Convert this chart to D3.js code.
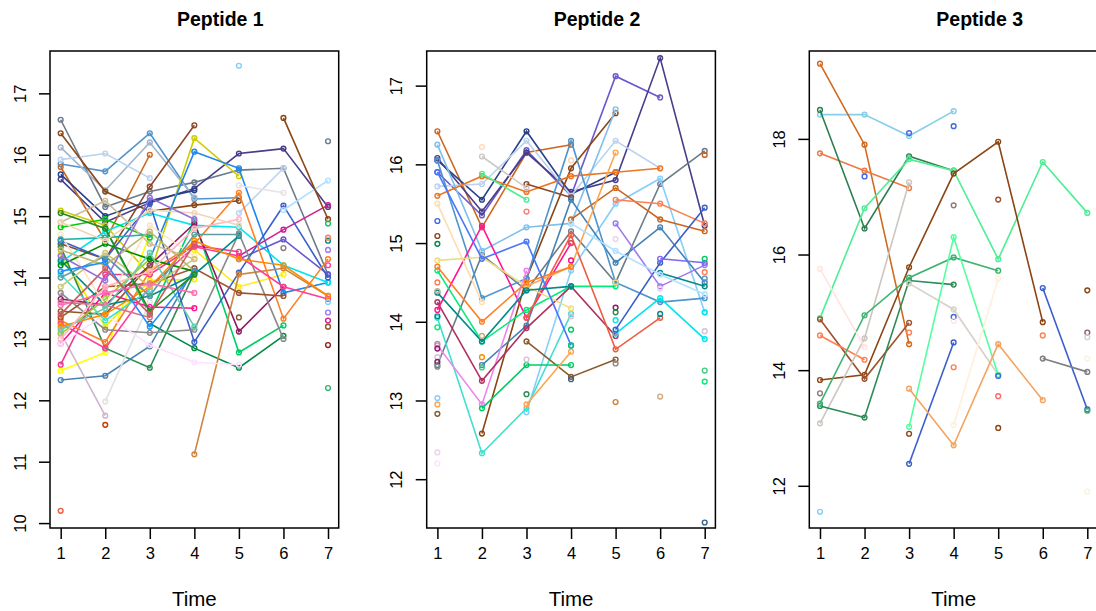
<!DOCTYPE html>
<html><head><meta charset="utf-8">
<script src="https://cdn.jsdelivr.net/npm/d3@7"></script>
<style>body{margin:0;background:#fff}svg{display:block}text{font-family:"Liberation Sans",Arial,sans-serif}</style>
</head><body>
<svg id="c" width="1096" height="611"></svg>
<script>
const times = [1,2,3,4,5,6,7];
const titles = ["Peptide 1","Peptide 2","Peptide 3"];
const p1Ticks = [10,11,12,13,14,15,16,17];
const p2Ticks = [12,13,14,15,16,17];
const p3Ticks = [12,14,16,18];

const p1Values = [
 [16.57,15.15,15.40,15.55,15.75,15.78,14.05],
 [15.60,14.90,15.22,15.45,16.02,16.10,15.15],
 [15.85,15.73,16.35,15.28,15.30,null,null],
 [16.12,15.42,16.20,15.30,null,null,null],
 [15.92,16.02,15.62,null,15.05,15.78,null],
 [15.80,14.60,16.00,null,null,null,null],
 [16.35,15.40,15.08,15.18,15.25,null,null],
 [14.55,14.30,15.48,16.48,null,null,null],
 [15.68,15.00,15.25,15.42,null,null,null],
 [15.09,14.85,14.05,16.27,15.65,null,null],
 [12.48,12.78,14.70,null,null,null,null],
 [14.38,13.20,13.95,13.97,null,null,null],
 [null,null,null,14.45,13.85,14.05,null],
 [null,null,14.30,16.05,15.78,13.75,13.92],
 [14.25,14.75,15.05,14.85,14.82,14.20,13.92],
 [14.82,14.95,14.65,null,null,null,null],
 [null,14.80,13.40,14.92,12.78,13.22,null],
 [14.50,12.85,12.53,14.08,null,null,null],
 [null,null,13.25,12.85,12.53,13.05,null],
 [12.33,12.40,12.88,14.15,null,null,null],
 [13.10,11.75,null,null,null,null,null],
 [null,11.98,13.60,null,null,null,null],
 [12.58,14.05,14.05,14.52,14.42,null,null],
 [12.92,13.75,13.52,13.50,null,null,null],
 [13.65,13.55,14.20,14.88,13.12,13.85,null],
 [null,null,null,null,14.35,14.78,15.18],
 [null,null,null,null,14.30,14.62,14.05],
 [14.60,14.30,15.20,12.95,14.08,15.17,14.00],
 [null,null,null,11.12,14.05,14.15,13.70],
 [13.30,12.95,14.10,14.55,15.38,13.33,14.30],
 [13.75,13.15,13.10,13.15,14.72,13.00,null],
 [12.92,13.40,12.90,12.62,12.58,null,null],
 [null,null,null,null,15.50,15.38,null],
 [null,null,null,null,null,15.10,15.58],
 [13.35,13.85,13.90,14.15,13.75,13.70,null],
 [13.45,13.40,14.20,null,13.35,null,13.20],
 [13.25,12.85,13.85,14.50,14.35,13.85,13.65],
 [14.28,13.55,13.70,14.05,14.68,null,14.60],
 [14.05,13.30,13.80,null,null,null,null],
 [13.08,13.65,14.30,null,null,null,null],
 [14.90,15.25,14.55,14.30,null,null,null],
 [14.70,13.55,14.85,14.35,null,null,null],
 [14.20,14.55,14.30,14.10,null,null,null],
 [14.00,14.35,13.70,14.70,14.70,null,null],
 [13.60,13.55,13.35,null,null,null,null],
 [13.20,13.40,13.85,14.60,14.30,14.20,13.70],
 [null,null,null,null,null,16.60,14.95],
 [14.62,14.65,14.70,null,null,null,null],
 [13.85,14.40,13.85,14.30,null,null,null],
 [14.45,14.20,14.75,14.10,null,null,null],
 [13.15,13.50,14.40,13.20,null,null,null],
 [14.10,14.25,13.20,14.10,null,null,null],
 [13.55,13.75,13.90,13.75,null,null,null],
 [15.05,14.80,13.45,14.05,null,null,null],
 [13.00,13.85,14.10,14.80,14.95,null,null],
 [14.90,14.60,15.10,15.05,14.85,null,null],
 [13.40,14.15,13.40,14.55,null,null,null],
 [14.35,13.95,15.30,14.95,null,null,null]
];
const p1Colors = ["#6C7B8B","#483D8B","#4F94CD","#A2B5CD","#BCD2EE","#CD661D","#8B4513","#8B4726","#27408B","#CDCD00",
 "#FFFF00","#EEEE00","#FFEC1A","#1C86EE","#00E5EE","#00CD00","#00CD66","#2E8B57","#008B45","#4682B4",
 "#CDB5CD","#E0E0E0","#EE3A8C","#FF1493","#8B1C62","#D02090","#6959CD","#3A5FCD","#CD853F","#FF7F24",
 "#8B8989","#FFE1FF","#E8E2E2","#B0E2FF","#A0522D","#8B5A2B","#FF3E96","#008B8B","#40E0D0","#9ACD32",
 "#CDBA96","#FFE4C4","#008B00","#5F9EA0","#DB7093","#FF8C00","#8B4513",
 "#20B2AA","#CDC673","#BDB76B","#66CDAA","#1E90FF","#FF6EB4","#228B22","#FFB6C1","#EED5B7","#CD5C5C","#9370DB"];
const p1LoneTime = [1,2,5,7,7,7,7,7,7,7,7,7,7,6];
const p1LoneValue = [10.20,11.60,17.45,16.22,14.88,14.65,14.45,14.20,13.60,13.43,13.30,12.90,12.20,14.48];
const p1LoneColor = ["#EE5C42","#CD3700","#87CEFA","#6C7B8B","#00CD66","#FF7F50","#9F79EE","#FF3E96","#87CEFA","#9F79EE","#D02090","#8B2323","#3CB371","#8B7D7B"];

const p2Values = [
 [16.42,15.20,16.15,16.25,null,null,null],
 [16.05,15.55,16.42,15.62,15.90,null,null],
 [15.90,15.35,16.18,15.60,17.12,16.85,null],
 [16.08,15.40,16.15,15.65,15.80,17.35,15.22],
 [15.72,15.75,16.30,15.60,16.30,15.95,null],
 [13.45,14.85,14.40,15.15,14.50,15.75,16.17],
 [null,12.58,14.55,15.95,16.65,null,null],
 [null,null,12.85,14.65,15.50,15.82,14.12],
 [16.25,14.90,15.20,15.25,16.70,null,null],
 [15.60,15.85,15.65,15.85,15.90,15.95,null],
 [null,null,15.75,15.58,null,null,null],
 [null,null,null,15.30,15.70,15.30,15.15],
 [null,null,null,null,15.55,15.50,15.25],
 [null,13.45,13.95,15.55,14.75,15.20,14.50],
 [16.05,14.30,14.55,16.30,14.50,14.25,14.30],
 [14.05,12.33,12.90,14.10,null,null,null],
 [14.15,15.22,14.05,15.00,null,null,null],
 [13.70,12.95,14.65,null,null,null,null],
 [14.65,13.75,14.15,14.45,14.45,null,null],
 [14.25,13.25,13.92,14.45,13.82,null,null],
 [null,null,13.75,13.30,13.52,null,null],
 [null,12.90,13.45,13.45,null,null,null],
 [null,null,14.05,15.10,13.65,14.05,null],
 [null,null,null,null,13.85,14.30,13.78],
 [15.50,14.25,null,null,null,null,null],
 [14.78,14.82,14.45,14.17,null,null,null],
 [null,null,12.95,13.62,null,null,null],
 [null,null,14.45,14.70,16.15,null,null],
 [14.70,14.00,14.50,14.70,null,null,null],
 [15.90,14.80,15.02,13.70,null,null,null],
 [null,null,null,null,13.90,14.75,15.45],
 [null,null,null,null,15.25,14.45,14.72],
 [14.37,13.75,14.40,14.45,null,14.62,14.45],
 [null,16.10,15.70,null,null,null,null],
 [null,15.88,15.55,null,null,null,null],
 [null,null,null,15.25,14.90,14.60,14.35],
 [null,null,null,null,null,14.80,14.75]
];
const p2Colors = ["#CD661D","#27408B","#6959CD","#483D8B","#BCD2EE","#6C7B8B","#8B4513","#87CEFA","#7EC0EE","#EE7621",
 "#8B4726","#CD661D","#FF7F50","#4682B4","#4F94CD","#40E0D0","#FF1493","#EE82EE","#00EE76","#B03060",
 "#8B5A2B","#00CD66","#EE5C42","#00E5EE","#FFDEAD","#EEDD82","#FFA54F","#FFA54F","#FF7F24","#4876FF",
 "#3A5FCD","#9F79EE","#008B8B","#CDC9C9","#4EEE94","#B0E2FF","#7B68EE"];
const p2LoneTime = [1,1,1,1,1,1,1,1,1,1,1,1,1,1,1,1,1, 2,2,2,2, 3,3,3, 4,4,4,4,4,4,4, 5,5,5,5,5,5,5, 6,6,6, 7,7,7,7,7,7,7,7,7];
const p2LoneValue = [15.28,15.09,14.99,14.50,14.39,14.07,13.93,13.72,13.66,13.55,13.49,13.43,13.03,12.95,12.83,12.34,12.20,
 16.22,13.82,13.55,13.42, 15.40,13.08,13.52, 16.05,15.00,14.78,13.90,13.70,13.27,14.07,
 15.05,14.18,14.12,14.02,13.47,12.98,14.50, 14.10,13.05,14.42,
 16.12,14.80,14.63,14.55,13.88,13.38,13.24,11.45,14.12];
const p2LoneColor = ["#4169E1","#8B4726","#008B45","#FF7F50","#CDAA7D","#008B8B","#00EE76","#BC8F8F","#8B1C62","#D8BFD8","#8B1C62","#8B8989","#87CEFA","#FFA54F","#8B5A2B","#EED2EE","#FFE1FF",
 "#FFDAB9","#CDAA7D","#FF8C00","#43CD80", "#FA8072","#2E8B57","#D8BFD8",
 "#FFDAB9","#CD5555","#EE1289","#00CD66","#00CD66","#36648B","#D8BFD8",
 "#EED2EE","#8B1C62","#2E8B57","#00E5EE","#8B8989","#CD853F","#EEDD82",
 "#008B8B","#CDAA7D","#EED2EE",
 "#CD661D","#00CD66","#FF7F50","#4F94CD","#D8BFD8","#43CD80","#00EE76","#36648B","#00E5EE"];

const p3Values = [
 [18.42,18.42,18.05,18.48,null,null,null],
 [19.30,17.90,14.45,null,null,null,null],
 [17.75,17.45,17.15,null,null,null,null],
 [18.50,16.45,17.70,17.45,null,null,null],
 [14.90,16.80,17.65,17.45,15.92,17.60,16.72],
 [13.83,13.92,15.78,17.40,17.95,14.83,null],
 [14.88,13.85,14.82,null,null,null,null],
 [14.60,14.18,null,null,null,null,null],
 [13.08,14.55,17.25,null,null,null,null],
 [13.38,13.18,15.55,15.48,null,null,null],
 [13.42,14.95,15.60,15.95,15.72,null,null],
 [15.75,14.40,null,null,null,null,null],
 [null,null,15.50,15.05,13.92,null,null],
 [null,null,13.02,16.30,13.92,null,null],
 [null,null,12.38,14.48,null,null,null],
 [null,null,13.68,12.70,14.45,13.48,null],
 [null,null,null,13.05,15.58,null,null],
 [null,null,null,null,null,15.42,13.32],
 [null,null,null,null,null,14.20,13.97]
];
const p3Colors = ["#87CEEB","#D2691E","#EE7942","#2E7D4F","#4EEE94","#8B4513","#A0522D","#FF7F50","#CDC5BF","#2E8B57",
 "#3CB371","#FFE4E1","#D9D0C9","#54FF9F","#3A5FCD","#F4A460","#FFEFDB","#3A5FCD","#7F7F7F"];
const p3LoneTime = [1,1,2,3,3,3,4,4,4,4,4,5,5,5,5,6,7,7,7,7,7,7];
const p3LoneValue = [13.60,11.55,17.35,18.10,14.65,12.90,18.22,16.85,14.92,14.05,14.85,16.95,13.55,13.00,13.90,14.60,15.38,14.65,14.57,14.20,11.90,13.30];
const p3LoneColor = ["#8B7D7B","#87CEFA","#4169E1","#4169E1","#FF7F50","#8B4513","#4169E1","#8B7D7B","#4169E1","#FF7F50","#FFE4E1","#A0522D","#FF6A6A","#8B4513","#4169E1","#FF7F50","#8B4513","#8B5F65","#D3D3D3","#FFEFDB","#FFEFDB","#3CB371"];

const panelLefts = [50, 426.7, 809.3];
const boxW = 288.7, boxTop = 51, boxBottom = 528;
const yDomains = [[9.92,17.69],[11.38,17.44],[11.27,19.52]];
const tickSets = [p1Ticks,p2Ticks,p3Ticks];
const valueSets = [p1Values,p2Values,p3Values];
const colorSets = [p1Colors,p2Colors,p3Colors];
const loneT = [p1LoneTime,p2LoneTime,p3LoneTime];
const loneV = [p1LoneValue,p2LoneValue,p3LoneValue];
const loneC = [p1LoneColor,p2LoneColor,p3LoneColor];

const svg = d3.select("#c");
panelLefts.forEach((left,i)=>{
  const g = svg.append("g");
  const x = d3.scaleLinear().domain([0.76,7.24]).range([left,left+boxW]);
  const y = d3.scaleLinear().domain(yDomains[i]).range([boxBottom,boxTop]);
  const line = d3.line().defined(d=>d!=null).x((d,j)=>x(times[j])).y(d=>y(d));
  valueSets[i].forEach((vals,k)=>{
    const col = colorSets[i][k];
    g.append("path").attr("d",line(vals)).attr("fill","none").attr("stroke",col).attr("stroke-width",1.6);
    vals.forEach((v,j)=>{ if(v!=null) g.append("circle").attr("cx",x(times[j])).attr("cy",y(v)).attr("r",2.4)
      .attr("fill","none").attr("stroke",col).attr("stroke-width",1.4); });
  });
  loneT[i].forEach((t,k)=>{
    g.append("circle").attr("cx",x(t)).attr("cy",y(loneV[i][k])).attr("r",2.4)
      .attr("fill","none").attr("stroke",loneC[i][k]).attr("stroke-width",1.4);
  });
  g.append("rect").attr("x",left).attr("y",boxTop).attr("width",boxW).attr("height",boxBottom-boxTop)
    .attr("fill","none").attr("stroke","#000").attr("stroke-width",1.5);
  const xa = g.append("g").attr("transform",`translate(0,${boxBottom})`)
    .call(d3.axisBottom(x).tickValues(times).tickSize(11).tickPadding(8).tickFormat(d3.format("d")));
  xa.select(".domain").remove();
  xa.selectAll("line").attr("stroke","#000").attr("stroke-width",1.5);
  xa.selectAll("text").attr("font-size","16.5px").attr("fill","#000");
  const ya = g.append("g").attr("transform",`translate(${left},0)`)
    .call(d3.axisLeft(y).tickValues(tickSets[i]).tickSize(11).tickFormat(d3.format("d")));
  ya.select(".domain").remove();
  ya.selectAll("line").attr("stroke","#000").attr("stroke-width",1.5);
  ya.selectAll("text").attr("font-size","16.5px").attr("fill","#000")
    .attr("text-anchor","middle").attr("x",0)
    .attr("transform","translate(-30,0) rotate(-90)")
    .attr("dy","0.35em");
  g.append("text").attr("x",left+boxW/2+26).attr("y",26).attr("text-anchor","middle")
    .attr("font-weight","bold").attr("font-size","19.5px").text(titles[i]);
  g.append("text").attr("x",x(4)).attr("y",606).attr("text-anchor","middle")
    .attr("font-size","20.5px").text("Time");
});
</script>
</body></html>
